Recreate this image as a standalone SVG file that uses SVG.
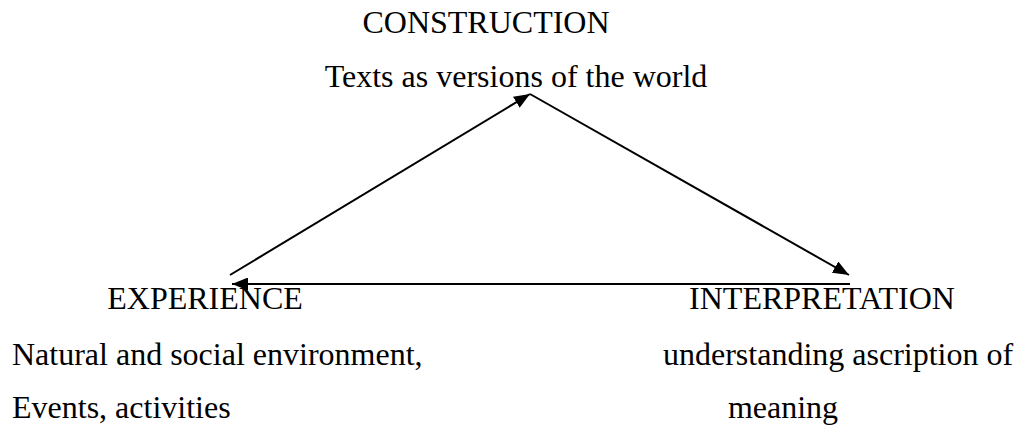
<svg xmlns="http://www.w3.org/2000/svg" width="1018" height="425" viewBox="0 0 1018 425">
<style>
text{font-family:"Liberation Serif","Times New Roman",serif;font-size:32px;fill:#000}
.c{text-anchor:middle}
.ln{stroke:#000;stroke-width:2;fill:none}
</style>
<defs>
<marker id="ah" markerUnits="userSpaceOnUse" markerWidth="17" markerHeight="13" refX="16" refY="6.5" orient="auto">
<path d="M0,0 L16,6.5 L0,13 Z" fill="#000"/>
</marker>
</defs>
<rect width="1018" height="425" fill="#fff"/>
<g id="connectors">
<line class="ln" x1="230" y1="275" x2="530" y2="94" marker-end="url(#ah)"/>
<line class="ln" x1="530" y1="94" x2="849" y2="275" marker-end="url(#ah)"/>
<line class="ln" x1="850" y1="284" x2="232" y2="284" marker-end="url(#ah)"/>
</g>
<g id="construction">
<text class="c" x="486" y="33">CONSTRUCTION</text>
<text class="c" x="516" y="87">Texts as versions of the world</text>
</g>
<g id="experience">
<text class="c" x="205" y="309">EXPERIENCE</text>
<text x="12" y="365">Natural and social environment,</text>
<text x="12" y="418">Events, activities</text>
</g>
<g id="interpretation">
<text class="c" x="822" y="309">INTERPRETATION</text>
<text x="663" y="365">understanding ascription of</text>
<text class="c" x="783" y="418">meaning</text>
</g>
</svg>
